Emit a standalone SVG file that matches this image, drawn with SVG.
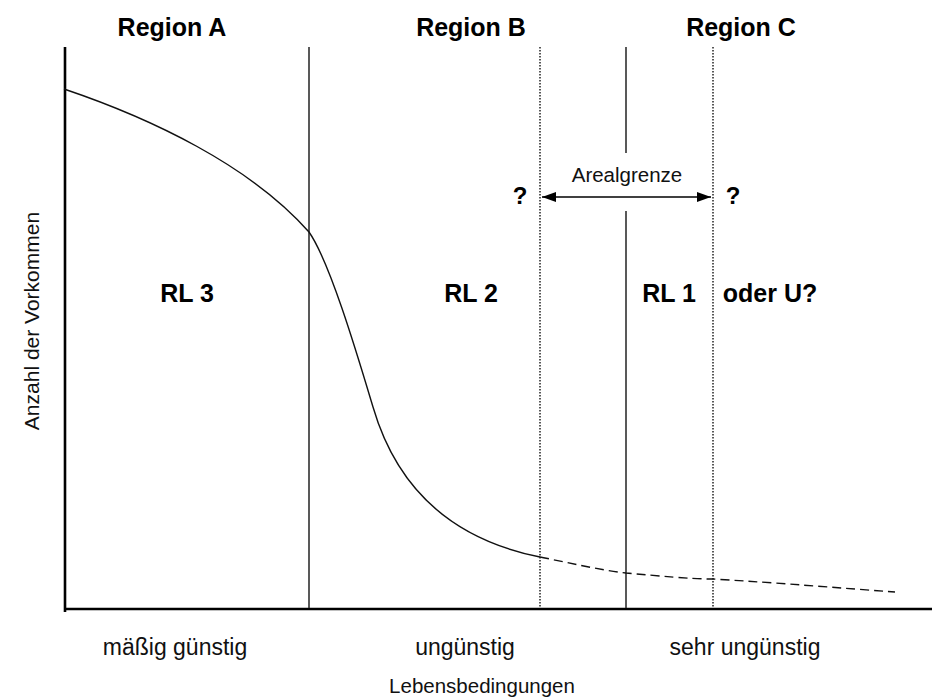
<svg xmlns="http://www.w3.org/2000/svg" width="932" height="699" viewBox="0 0 932 699">
<style>
.t{font-family:"Liberation Sans",Arial,sans-serif;fill:#000}
.b{font-weight:bold;font-size:25px}
.n{font-size:23px;fill:#111}
.ax{stroke:#000;stroke-width:2.6;fill:none}
.sv{stroke:#222;stroke-width:1.5;fill:none}
.dv{stroke:#222;stroke-width:1.5;stroke-dasharray:1.5,1.5;fill:none}
.cv{stroke:#111;stroke-width:1.4;fill:none}
</style>
<defs>
<marker id="ah" viewBox="0 0 14 10" refX="14" refY="5" markerWidth="14" markerHeight="10" markerUnits="userSpaceOnUse" orient="auto-start-reverse">
<path d="M0,0 L14,5 L0,10 Z" fill="#000"/>
</marker>
</defs>
<rect width="932" height="699" fill="#fff"/>
<g id="axes">
<line class="ax" x1="65" y1="47" x2="65" y2="612"/>
<line class="ax" x1="64" y1="609" x2="932" y2="609"/>
</g>
<g id="dividers">
<line class="sv" x1="309" y1="47" x2="309" y2="608"/>
<line class="sv" x1="626" y1="47" x2="626" y2="153"/>
<line class="sv" x1="626" y1="211" x2="626" y2="608"/>
<line class="dv" x1="540" y1="47" x2="540" y2="608"/>
<line class="dv" x1="713" y1="47" x2="713" y2="608"/>
</g>
<g id="connectors">
<path class="cv" d="M64,89 C150,118 250,165 309,232 C330,262 358,357 373,407 C390,465 430,535 540,557"/>
<path class="cv" stroke-dasharray="9,5" d="M540,557 C570,563 600,570 626,573 C660,576 690,579 713,579 C780,583 840,588 895,592"/>
<line x1="542" y1="197" x2="711" y2="197" stroke="#000" stroke-width="1.6" marker-start="url(#ah)" marker-end="url(#ah)"/>
</g>
<g id="region-a"><text class="t b" x="172" y="36" text-anchor="middle">Region A</text></g>
<g id="region-b"><text class="t b" x="471" y="36" text-anchor="middle">Region B</text></g>
<g id="region-c"><text class="t b" x="741" y="36" text-anchor="middle">Region C</text></g>
<g id="rl3"><text class="t b" x="187" y="302" text-anchor="middle">RL 3</text></g>
<g id="rl2"><text class="t b" x="471" y="302" text-anchor="middle">RL 2</text></g>
<g id="rl1"><text class="t b" x="669" y="302" text-anchor="middle">RL 1</text></g>
<g id="oder-u"><text class="t b" x="770" y="302" text-anchor="middle">oder U?</text></g>
<g id="q-left"><text class="t b" x="520" y="204" text-anchor="middle" style="font-size:24px">?</text></g>
<g id="q-right"><text class="t b" x="733" y="204" text-anchor="middle" style="font-size:24px">?</text></g>
<g id="arealgrenze"><text class="t" x="627" y="182" text-anchor="middle" style="font-size:20.5px;fill:#111">Arealgrenze</text></g>
<g id="x-labels">
<text class="t n" x="175" y="655" text-anchor="middle">mäßig günstig</text>
<text class="t n" x="465" y="655" text-anchor="middle">ungünstig</text>
<text class="t n" x="745" y="655" text-anchor="middle">sehr ungünstig</text>
<text class="t n" x="482" y="693" text-anchor="middle" style="font-size:20.5px">Lebensbedingungen</text>
</g>
<g id="y-label"><text class="t" x="0" y="0" text-anchor="middle" transform="translate(39,321) rotate(-90)" style="font-size:21px;fill:#111">Anzahl der Vorkommen</text></g>
</svg>
